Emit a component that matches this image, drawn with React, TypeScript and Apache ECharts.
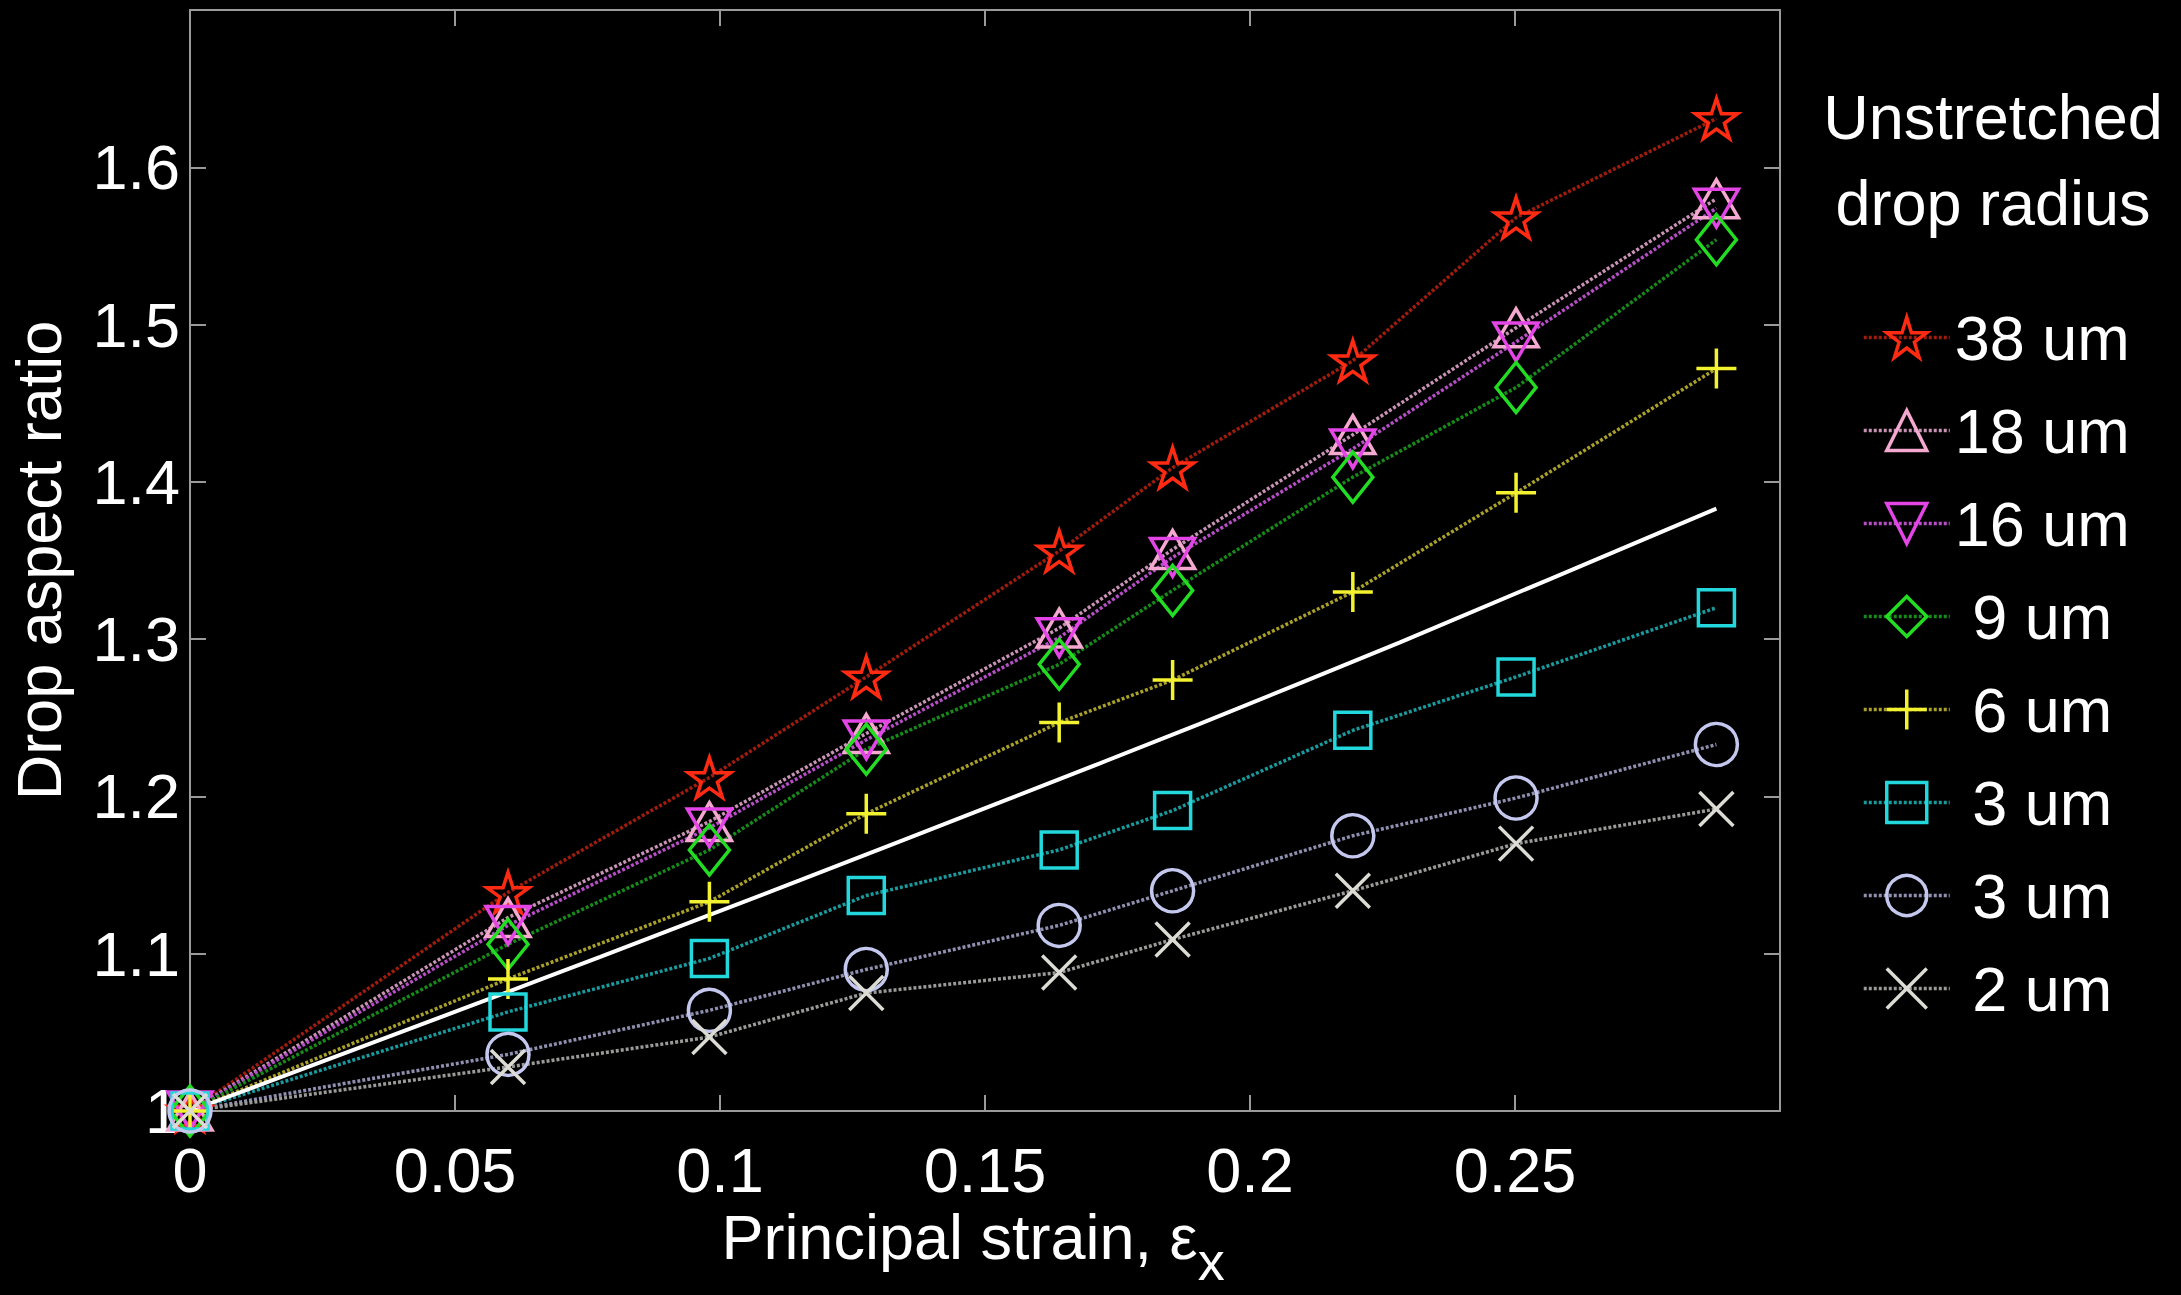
import React, { useEffect, useRef } from 'react';
import * as echarts from 'echarts';

// ---------------- data ----------------
const strain = [0, 0.06, 0.098, 0.1276, 0.164, 0.1854, 0.2194, 0.2502, 0.288];

const r38um = [1, 1.139, 1.212, 1.276, 1.356, 1.409, 1.477, 1.568, 1.631];
const r18um = [1, 1.123, 1.184, 1.240, 1.307, 1.357, 1.430, 1.498, 1.580];
const r16um = [1, 1.118, 1.180, 1.236, 1.301, 1.352, 1.421, 1.489, 1.574];
const r9um = [1, 1.106, 1.166, 1.230, 1.284, 1.331, 1.403, 1.460, 1.554];
const r6um = [1, 1.084, 1.133, 1.189, 1.247, 1.274, 1.330, 1.393, 1.472];
const r3umSquare = [1, 1.063, 1.097, 1.137, 1.166, 1.191, 1.242, 1.276, 1.320];
const r3umCircle = [1, 1.036, 1.064, 1.090, 1.118, 1.140, 1.175, 1.199, 1.233];
const r2um = [1, 1.028, 1.047, 1.075, 1.088, 1.109, 1.140, 1.170, 1.192];

// white reference curve
const theoryStrain = [0, 0.0547, 0.0774, 0.115, 0.1527, 0.1904, 0.2283, 0.288];
const theoryRatio = [1.0, 1.069, 1.098, 1.1466, 1.196, 1.246, 1.298, 1.383];

const seriesKeys = ['s38', 's18', 's16', 's9', 's6', 's3a', 's3b', 's2'];
const legendLabels = ['38 um', '18 um', '16 um', '\u00a09 um', '\u00a06 um', '\u00a03 um', '\u00a03 um', '\u00a02 um'];
const seriesValues = [r38um, r18um, r16um, r9um, r6um, r3umSquare, r3umCircle, r2um];

const legendTitle = 'Unstretched\ndrop radius';
const xAxisTitle = 'Principal strain, ε';
const xAxisSub = 'x';
const yAxisTitle = 'Drop aspect ratio';

const xMin = 0, xMax = 0.3, xStep = 0.05;
const yMin = 1, yMax = 1.7, yStep = 0.1;

// ---------------- styles ----------------
const FONT = '"Liberation Sans", Arial, Helvetica, sans-serif';
const STAR = 'path://M50,0 L61.23,34.55 L97.55,34.55 L68.17,55.9 L79.39,90.45 L50,69.1 L20.61,90.45 L31.83,55.9 L2.45,34.55 L38.77,34.55 Z';
const TRI_UP = 'path://M50,0 L100,86 L0,86 Z';
const TRI_DOWN = 'path://M0,0 L100,0 L50,86 Z';
const PLUS = 'path://M50,0 L50,100 M0,50 L100,50';
const CROSS = 'path://M0,0 L100,100 M100,0 L0,100';

const styles = [
  { symbol: STAR, size: 42, marker: '#ff2a12', line: '#a01d0e' },
  { symbol: TRI_UP, size: 44, marker: '#f5a8d0', line: '#c893b5' },
  { symbol: TRI_DOWN, size: 44, marker: '#e445e6', line: '#b64ec6' },
  { symbol: 'diamond', size: [40, 50], marker: '#22dd22', line: '#178a1a' },
  { symbol: PLUS, size: 40, marker: '#f2f230', line: '#a8a02a' },
  { symbol: 'rect', size: 36, marker: '#22d8dc', line: '#1a9a9c' },
  { symbol: 'circle', size: 42, marker: '#c4c8ee', line: '#8f8fb0' },
  { symbol: CROSS, size: 34, marker: '#dcdcd4', line: '#9a9a98' },
];

const AXIS_COLOR = '#9a9a9a';

function buildOption() {
  const dataSeries = seriesKeys.map((key, i) => ({
    name: key,
    type: 'line',
    data: strain.map((x, j) => [x, seriesValues[i][j]]),
    symbol: styles[i].symbol,
    symbolSize: styles[i].size,
    symbolKeepAspect: true,
    clip: false,
    lineStyle: { color: styles[i].line, width: 3.5, type: [3, 2] },
    itemStyle: { color: 'rgba(0,0,0,0)', borderColor: styles[i].marker, borderWidth: 3.5 },
    emphasis: { disabled: true },
    z: 2,
  }));

  const theory = {
    name: 'theory',
    type: 'line',
    data: theoryStrain.map((x, j) => [x, theoryRatio[j]]),
    symbol: 'none',
    smooth: 0.2,
    lineStyle: { color: '#ffffff', width: 4 },
    emphasis: { disabled: true },
    z: 2,
  };

  const tick = { show: true, inside: true, length: 16, lineStyle: { color: AXIS_COLOR, width: 2 } };
  const line = { show: true, onZero: false, lineStyle: { color: AXIS_COLOR, width: 2 } };
  const label = { color: '#ffffff', fontSize: 63, fontFamily: FONT, showMaxLabel: false };

  return {
    animation: false,
    backgroundColor: '#000000',
    title: {
      text: legendTitle,
      left: 1988,
      top: 69,
      textAlign: 'center',
      textStyle: { color: '#ffffff', fontSize: 63, fontWeight: 'normal', fontFamily: FONT, lineHeight: 86 },
    },
    legend: {
      orient: 'vertical',
      left: 1857,
      top: 301,
      itemWidth: 86,
      itemHeight: 50,
      itemGap: 30,
      selectedMode: false,
      data: seriesKeys,
      formatter: (name: string) => legendLabels[seriesKeys.indexOf(name)],
      textStyle: { color: '#ffffff', fontSize: 63, fontFamily: FONT, lineHeight: 60 },
      itemStyle: { borderWidth: 3.5 },
      lineStyle: { width: 3.5 },
    },
    grid: { left: 190, right: 401, top: 10, bottom: 184, containLabel: false, outerBoundsMode: 'none' },
    xAxis: [
      {
        type: 'value', min: xMin, max: xMax, interval: xStep, position: 'bottom',
        axisLine: line, axisTick: tick, splitLine: { show: false },
        axisLabel: { ...label, margin: 27 },
        name: `{a|${xAxisTitle}}{s|${xAxisSub}}`,
        nameLocation: 'middle',
        nameGap: 54,
        nameTextStyle: {
          padding: [0, 24, 0, 0],
          rich: {
            a: { fontSize: 63, color: '#ffffff', fontFamily: FONT, lineHeight: 70, verticalAlign: 'top' },
            s: { fontSize: 54, color: '#ffffff', fontFamily: FONT, lineHeight: 56, padding: [28, 0, 0, 0], verticalAlign: 'top' },
          },
        },
      },
      {
        type: 'value', min: xMin, max: xMax, interval: xStep, position: 'top',
        axisLine: line, axisTick: tick, splitLine: { show: false }, axisLabel: { show: false },
      },
    ],
    yAxis: [
      {
        type: 'value', min: yMin, max: yMax, interval: yStep, position: 'left',
        axisLine: line, axisTick: tick, splitLine: { show: false },
        axisLabel: { ...label, margin: 10 },
        name: yAxisTitle,
        nameLocation: 'middle',
        nameGap: 120,
        nameRotate: 90,
        nameTextStyle: { color: '#ffffff', fontSize: 63, fontFamily: FONT },
      },
      {
        type: 'value', min: yMin, max: yMax, interval: yStep, position: 'right',
        axisLine: line, axisTick: tick, splitLine: { show: false }, axisLabel: { show: false },
      },
    ],
    series: [...dataSeries, theory],
  };
}

export default function App() {
  const ref = useRef<HTMLDivElement>(null);
  useEffect(() => {
    document.body.style.margin = '0';
    document.body.style.background = '#000';
    const chart = echarts.init(ref.current as HTMLDivElement, null, { renderer: 'svg' });
    chart.setOption(buildOption() as any);
    return () => chart.dispose();
  }, []);
  return <div ref={ref} style={{ width: 2181, height: 1295, background: '#000' }} />;
}
